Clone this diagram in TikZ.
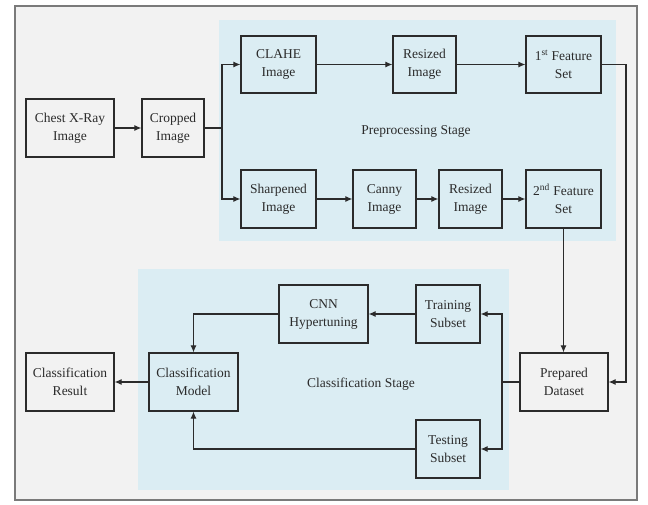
\documentclass[tikz,border=0pt]{standalone}
\usepackage{fontspec}
\setmainfont{Liberation Serif}
\usetikzlibrary{arrows.meta}
\definecolor{bgframe}{HTML}{F2F2F2}
\definecolor{framegray}{HTML}{7A7A7A}
\definecolor{stageblue}{HTML}{DBEDF3}
\definecolor{ink}{HTML}{2B2B2B}
\tikzset{
  box/.style={draw=ink, line width=1.2pt, minimum height=58pt, inner sep=0pt, align=center,
    text=ink, font=\fontsize{13.5}{18}\selectfont},
  arr/.style={draw=ink, line width=1.1pt, -{Latex[length=7pt,width=6pt]}},
  ln/.style={draw=ink, line width=1.1pt},
  stagelabel/.style={text=ink, font=\fontsize{13.5}{16}\selectfont}
}
\begin{document}
\begin{tikzpicture}[x=1pt,y=-1pt]
\useasboundingbox (0,0) rectangle (648,504);
\fill[white] (0,0) rectangle (648,504);
\filldraw[fill=bgframe, draw=framegray, line width=1.5pt] (15,6) rectangle (637,500);
\fill[stageblue] (219,20) rectangle (616,241);
\fill[stageblue] (138,269) rectangle (509,490);

\node[stagelabel] (prelabel) at (416,131) {Preprocessing Stage};
\node[stagelabel] (clslabel) at (361,384) {Classification Stage};

\node[box, minimum width=88pt] (chest) at (70,128) {Chest X-Ray\\Image};
\node[box, minimum width=62pt] (crop) at (173,128) {Cropped\\Image};
\node[box, minimum width=75pt, minimum height=57pt] (clahe) at (278.5,64.5) {CLAHE\\Image};
\node[box, minimum width=75pt] (sharp) at (278.5,199) {Sharpened\\Image};
\node[box, minimum width=63pt, minimum height=57pt] (res1) at (424.5,64.5) {Resized\\Image};
\node[box, minimum width=75pt, minimum height=57pt] (feat1) at (563.5,64.5) {1\textsuperscript{st} Feature\\Set};
\node[box, minimum width=63pt] (canny) at (384.5,199) {Canny\\Image};
\node[box, minimum width=63pt] (res2) at (470.5,199) {Resized\\Image};
\node[box, minimum width=75pt] (feat2) at (563.5,199) {2\textsuperscript{nd} Feature\\Set};

\node[box, minimum width=88pt] (result) at (70,382) {Classification\\Result};
\node[box, minimum width=89pt] (model) at (193.5,382) {Classification\\Model};
\node[box, minimum width=89pt] (cnn) at (323.5,314) {CNN\\Hypertuning};
\node[box, minimum width=64pt] (train) at (448,314) {Training\\Subset};
\node[box, minimum width=64pt] (test) at (448,449) {Testing\\Subset};
\node[box, minimum width=88pt] (prep) at (564,382) {Prepared\\Dataset};

\coordinate (b1) at (222,128);
\coordinate (r1) at (626,382);
\coordinate (b2) at (502,382);

\draw[arr] (chest) -- (crop);
\draw[ln] (crop.east) -- (b1);
\draw[arr] (b1) |- (clahe.west);
\draw[arr] (b1) |- (sharp.west);
\draw[arr] (clahe) -- (res1);
\draw[arr] (res1) -- (feat1);
\draw[arr] (sharp) -- (canny);
\draw[arr] (canny) -- (res2);
\draw[arr] (res2) -- (feat2);
\draw[arr] (feat1.east) -| (r1) -- (prep.east);
\draw[arr] (feat2.south) -- (feat2.south |- prep.north);
\draw[ln] (prep.west) -- (b2);
\draw[arr] (b2) |- (train.east);
\draw[arr] (b2) |- (test.east);
\draw[arr] (train) -- (cnn);
\draw[arr] (cnn.west) -| (model.north);
\draw[arr] (test.west) -| (model.south);
\draw[arr] (model) -- (result);
\end{tikzpicture}
\end{document}
